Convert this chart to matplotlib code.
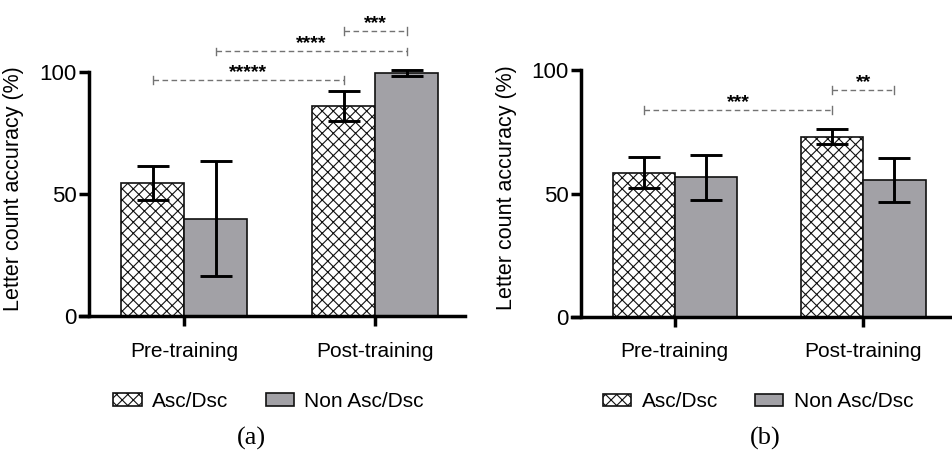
import matplotlib as mpl
mpl.use("Agg")
import matplotlib.pyplot as plt
from matplotlib.patches import Patch
import numpy as np

mpl.rcParams.update({
    "font.family": ["Liberation Sans", "DejaVu Sans"],
    "font.size": 15,
    "hatch.linewidth": 0.8,
    "axes.linewidth": 2.5,
})

groups = ["Pre-training", "Post-training"]
series = ["Asc/Dsc", "Non Asc/Dsc"]

# panel (a)
a_asc = [54.5, 86.0]
a_asc_err = [7.0, 6.2]
a_non = [40.0, 99.3]
a_non_err = [23.4, 1.3]
# bars: 0 pre asc, 1 pre non, 2 post asc, 3 post non
a_sig = [(0, 2, 96.6, "*****"), (1, 3, 108.2, "****"), (2, 3, 116.7, "***")]

# panel (b)
b_asc = [58.5, 73.0]
b_asc_err = [6.4, 3.1]
b_non = [56.5, 55.5]
b_non_err = [9.2, 8.8]
b_sig = [(0, 2, 83.9, "***"), (2, 3, 91.9, "**")]

GREY = "#a2a1a6"
DASH = "#737373"
W = 0.33


def panel(ax, asc, asc_err, non, non_err, sig):
    x = np.arange(len(groups))
    ax.bar(x - W / 2, asc, W, color="white", edgecolor="#111111", hatch="xxx",
           linewidth=1.2, zorder=2)
    ax.bar(x + W / 2, non, W, color=GREY, edgecolor="#111111", linewidth=1.2, zorder=2)
    ax.errorbar(x - W / 2, asc, yerr=asc_err, fmt="none", ecolor="black",
                elinewidth=2.1, capsize=11.5, capthick=2.1, zorder=3)
    ax.errorbar(x + W / 2, non, yerr=non_err, fmt="none", ecolor="black",
                elinewidth=2.1, capsize=11.5, capthick=2.1, zorder=3)

    centers = np.concatenate([[g - W / 2, g + W / 2] for g in x])
    for i, j, yy, lab in sig:
        x0, x1 = centers[i], centers[j]
        ax.plot([x0, x1], [yy, yy], color=DASH, lw=1.0, ls=(0, (4, 2.5)), clip_on=False)
        for xe in (x0, x1):
            ax.plot([xe, xe], [yy - 1.6, yy + 1.6], color=DASH, lw=1.0, clip_on=False)
        ax.text((x0 + x1) / 2, yy + 1.2, lab, ha="center", va="baseline",
                fontsize=14, fontweight="bold")

    ax.set_xlim(-0.545, 1.47)
    ax.set_ylim(0, 128)
    ax.spines["top"].set_visible(False)
    ax.spines["right"].set_visible(False)
    ax.spines["left"].set_position(("data", -0.496))
    ax.spines["left"].set_bounds(0, 100)
    ax.set_yticks([0, 50, 100])
    ax.set_xticks(x)
    ax.set_xticklabels(groups)
    ax.tick_params(axis="y", direction="out", length=7.2, width=2.5, pad=2, labelsize=16)
    ax.tick_params(axis="x", direction="out", length=7.2, width=2.5, pad=11, labelsize=15)
    ax.set_ylabel("Letter count accuracy (%)", fontsize=15.5)
    ax.yaxis.set_label_coords(-0.145, 0.408)

    handles = [Patch(facecolor="white", edgecolor="#111111", hatch="xxx", linewidth=1.2),
               Patch(facecolor=GREY, edgecolor="#111111", linewidth=1.2)]
    ax.legend(handles, series, loc="center", bbox_to_anchor=(0.49, -0.27), ncol=2,
              frameon=False, fontsize=15, handlelength=1.35, handleheight=0.55,
              handletextpad=0.5, columnspacing=1.8)


fig = plt.figure(figsize=(9.52, 4.55), dpi=100)
axa = fig.add_axes([0.0840, 0.3044, 0.4044, 0.689])
axb = fig.add_axes([0.6008, 0.304, 0.3992, 0.693])
panel(axa, a_asc, a_asc_err, a_non, a_non_err, a_sig)
panel(axb, b_asc, b_asc_err, b_non, b_non_err, b_sig)

fig.text(0.2644, 0.037, "(a)", ha="center", va="center", fontsize=19,
         family=["Liberation Serif", "DejaVu Serif"])
fig.text(0.8036, 0.037, "(b)", ha="center", va="center", fontsize=19,
         family=["Liberation Serif", "DejaVu Serif"])

fig.savefig("out.png", dpi=100)
